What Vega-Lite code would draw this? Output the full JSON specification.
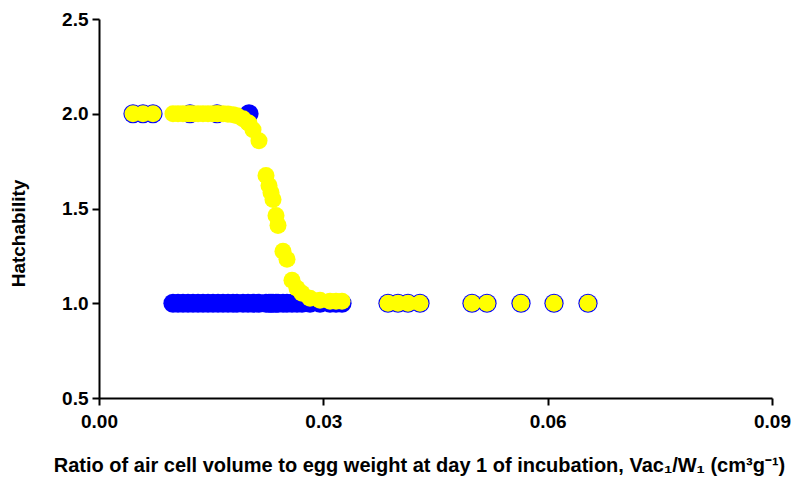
{
  "$schema": "https://vega.github.io/schema/vega-lite/v6.json",
  "width": 673,
  "height": 379,
  "autosize": "none",
  "padding": {"left": 99, "top": 19, "right": 24, "bottom": 81},
  "background": "white",
  "config": {
    "view": {"stroke": null},
    "font": "Liberation Sans"
  },
  "data": {
    "values": [
      {"x": 0.004547, "obs": 2, "pred": 2.0},
      {"x": 0.005884, "obs": 2, "pred": 2.0},
      {"x": 0.007221, "obs": 2, "pred": 2.0},
      {"x": 0.009896, "obs": 1, "pred": 2.0},
      {"x": 0.010565, "obs": 1, "pred": 2.0},
      {"x": 0.011233, "obs": 1, "pred": 2.0},
      {"x": 0.011902, "obs": 1, "pred": 2.0},
      {"x": 0.012169, "obs": 2, "pred": 2.0},
      {"x": 0.012571, "obs": 1, "pred": 2.0},
      {"x": 0.013239, "obs": 1, "pred": 2.0},
      {"x": 0.013908, "obs": 1, "pred": 2.0},
      {"x": 0.014577, "obs": 1, "pred": 2.0},
      {"x": 0.015245, "obs": 1, "pred": 2.0},
      {"x": 0.015780, "obs": 2, "pred": 2.0},
      {"x": 0.015914, "obs": 1, "pred": 2.0},
      {"x": 0.016583, "obs": 1, "pred": 2.0},
      {"x": 0.017251, "obs": 1, "pred": 1.998},
      {"x": 0.017920, "obs": 1, "pred": 1.995},
      {"x": 0.018454, "obs": 1, "pred": 1.989},
      {"x": 0.019257, "obs": 1, "pred": 1.974},
      {"x": 0.019926, "obs": 1, "pred": 1.953},
      {"x": 0.020060, "obs": 2, "pred": 1.950},
      {"x": 0.020594, "obs": 1, "pred": 1.916},
      {"x": 0.021397, "obs": 1, "pred": 1.858},
      {"x": 0.022333, "obs": 1, "pred": 1.674},
      {"x": 0.022734, "obs": 1, "pred": 1.621},
      {"x": 0.023002, "obs": 1, "pred": 1.584},
      {"x": 0.023269, "obs": 1, "pred": 1.547},
      {"x": 0.023670, "obs": 1, "pred": 1.463},
      {"x": 0.023938, "obs": 1, "pred": 1.411},
      {"x": 0.024606, "obs": 1, "pred": 1.274},
      {"x": 0.025141, "obs": 1, "pred": 1.232},
      {"x": 0.025810, "obs": 1, "pred": 1.121},
      {"x": 0.026479, "obs": 1, "pred": 1.079},
      {"x": 0.027147, "obs": 1, "pred": 1.053},
      {"x": 0.028217, "obs": 1, "pred": 1.026},
      {"x": 0.029554, "obs": 1, "pred": 1.016},
      {"x": 0.030892, "obs": 1, "pred": 1.011},
      {"x": 0.031694, "obs": 1, "pred": 1.011},
      {"x": 0.032496, "obs": 1, "pred": 1.011},
      {"x": 0.038648, "obs": 1, "pred": 1.0},
      {"x": 0.039985, "obs": 1, "pred": 1.0},
      {"x": 0.041323, "obs": 1, "pred": 1.0},
      {"x": 0.042927, "obs": 1, "pred": 1.0},
      {"x": 0.049881, "obs": 1, "pred": 1.0},
      {"x": 0.051887, "obs": 1, "pred": 1.0},
      {"x": 0.056434, "obs": 1, "pred": 1.0},
      {"x": 0.060847, "obs": 1, "pred": 1.0},
      {"x": 0.065394, "obs": 1, "pred": 1.0}
    ]
  },
  "encoding": {
    "x": {
      "field": "x",
      "type": "quantitative",
      "scale": {"domain": [0, 0.09], "nice": false, "zero": false},
      "axis": {
        "values": [0, 0.03, 0.06, 0.09],
        "format": ".2f",
        "grid": false,
        "domainColor": "black",
        "domainWidth": 2,
        "tickColor": "black",
        "tickWidth": 2,
        "tickSize": 7,
        "labelPadding": 7,
        "labelFont": "Liberation Sans",
        "labelFontWeight": "bold",
        "labelFontSize": 19,
        "labelColor": "black",
        "labelFlush": false,
        "title": "Ratio of air cell volume to egg weight at day 1 of incubation, Vac₁/W₁ (cm³g⁻¹)",
        "titleFont": "Liberation Sans",
        "titleFontWeight": "bold",
        "titleFontSize": 20,
        "titleColor": "black",
        "titleX": 320,
        "titleY": 67,
        "titleAlign": "center",
        "titleBaseline": "middle"
      }
    }
  },
  "layer": [
    {
      "mark": {"type": "point", "shape": "circle", "filled": true, "color": "#0000FF", "opacity": 1, "size": 370},
      "encoding": {
        "y": {
          "field": "obs",
          "type": "quantitative",
          "scale": {"domain": [0.5, 2.5], "nice": false, "zero": false},
          "axis": {
            "values": [0.5, 1.0, 1.5, 2.0, 2.5],
            "format": ".1f",
            "grid": false,
            "domainColor": "black",
            "domainWidth": 2,
            "tickColor": "black",
            "tickWidth": 2,
            "tickSize": 7,
            "labelPadding": 4,
            "labelFont": "Liberation Sans",
            "labelFontWeight": "bold",
            "labelFontSize": 19,
            "labelColor": "black",
            "labelFlush": false,
            "title": "Hatchability",
            "titleFont": "Liberation Sans",
            "titleFontWeight": "bold",
            "titleFontSize": 19,
            "titleColor": "black",
            "titleX": -81,
            "titleY": 214,
            "titleAlign": "center",
            "titleBaseline": "middle",
            "titleAngle": -90
          }
        }
      }
    },
    {
      "mark": {"type": "point", "shape": "circle", "filled": true, "color": "#FFFF00", "opacity": 1, "size": 290},
      "encoding": {
        "y": {"field": "pred", "type": "quantitative"}
      }
    }
  ]
}
